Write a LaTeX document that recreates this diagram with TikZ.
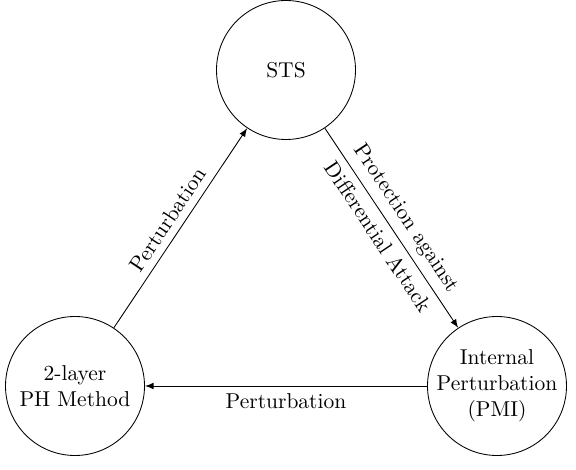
\documentclass[tikz,border=0pt]{standalone}
\usetikzlibrary{arrows}
\begin{document}
\begin{tikzpicture}[x=0.4651pt,y=-0.4651pt,
  state/.style={circle,draw,minimum size=64.65pt,inner sep=-0.5pt,align=center},
  conn/.style={-latex}]
\useasboundingbox (0,0) rectangle (576,470);
\node[state] (sts) at (286,70) {STS};
\node[state] (ph) at (75,386) {2-layer\\PH Method};
\node[state] (pmi) at (497,386) {Internal\\Perturbation\\(PMI)};
\draw[conn] (ph) -- node[above,sloped] {Perturbation} (sts);
\draw[conn] (sts) -- node[above,sloped] {Protection against} node[below,sloped] {Differential Attack} (pmi);
\draw[conn] (pmi) -- node[below] {Perturbation} (ph);
\end{tikzpicture}
\end{document}
